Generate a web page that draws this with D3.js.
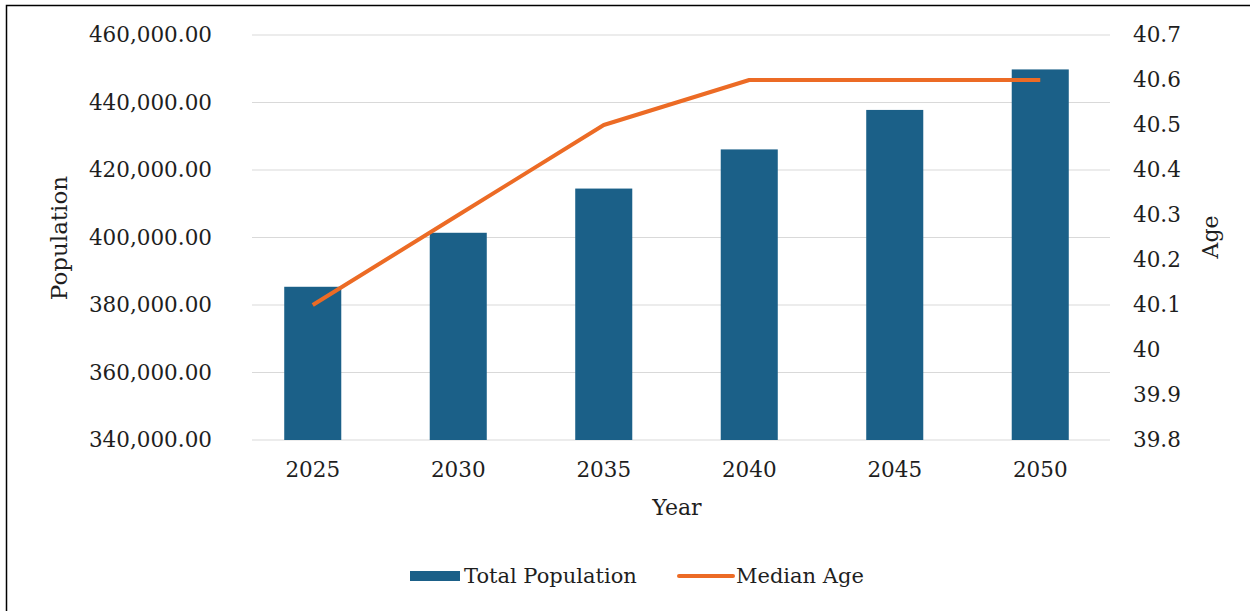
<!DOCTYPE html>
<html>
<head>
<meta charset="utf-8">
<script src="https://cdn.jsdelivr.net/npm/d3@7"></script>
<style>
  html, body { margin: 0; padding: 0; background: #fff; }
  svg { display: block; }
  text { font-family: "DejaVu Serif", "Liberation Serif", serif; fill: #1e1e1e; }
</style>
</head>
<body>
<svg id="chart" width="1250" height="611"></svg>
<script>
// Population projection with median age, 2025–2050
const years = ["2025", "2030", "2035", "2040", "2045", "2050"];
const totalPopulation = [385400, 401400, 414500, 426100, 437800, 449800];
const medianAge = [40.1, 40.3, 40.5, 40.6, 40.6, 40.6];
const popTicks = [340000, 360000, 380000, 400000, 420000, 440000, 460000];
const ageTicks = [39.8, 39.9, 40.0, 40.1, 40.2, 40.3, 40.4, 40.5, 40.6, 40.7];

const svg = d3.select("#chart");
const W = 1250, H = 611;

// frame
svg.append("rect")
  .attr("x", 6.5).attr("y", 5.5)
  .attr("width", W).attr("height", H)
  .attr("fill", "#fff").attr("stroke", "#000").attr("stroke-width", 1.5);

const plot = { left: 240, right: 1113, top: 35, bottom: 440 };

const x = d3.scaleBand()
  .domain(years)
  .range([plot.left, plot.right])
  .paddingInner(0.608)
  .paddingOuter(0.304);

const yPop = d3.scaleLinear().domain([340000, 460000]).range([plot.bottom, plot.top]);
const yAge = d3.scaleLinear().domain([39.8, 40.7]).range([plot.bottom, plot.top]);

// horizontal gridlines
svg.append("g")
  .selectAll("line")
  .data(popTicks)
  .join("line")
  .attr("x1", 252).attr("x2", 1110)
  .attr("y1", d => yPop(d)).attr("y2", d => yPop(d))
  .attr("stroke", "#d9d9d9").attr("stroke-width", 1.2);

function styleTicks(g) {
  g.select(".domain").remove();
  g.selectAll("text")
    .style("font-size", "21.5px")
    .attr("font-family", null)
    .attr("fill", "#1e1e1e");
}

// left axis
const fmtPop = d3.format(",.2f");
const leftAxis = d3.axisLeft(yPop).tickValues(popTicks).tickFormat(fmtPop).tickSize(0).tickPadding(0);
svg.append("g").attr("transform", "translate(212,0)").call(leftAxis).call(styleTicks);

// right axis
const fmtAge = d => (Math.abs(d - 40) < 1e-9 ? "40" : d3.format(".1f")(d));
const rightAxis = d3.axisRight(yAge).tickValues(ageTicks).tickFormat(fmtAge).tickSize(0).tickPadding(0);
svg.append("g").attr("transform", "translate(1133,0)").call(rightAxis).call(styleTicks);

// bottom axis
const bottomAxis = d3.axisBottom(x).tickSize(0).tickPadding(0);
svg.append("g").attr("transform", "translate(0,462)").call(bottomAxis).call(styleTicks);

// bars
svg.append("g")
  .selectAll("rect")
  .data(years.map((y, i) => ({ year: y, value: totalPopulation[i] })))
  .join("rect")
  .attr("x", d => x(d.year))
  .attr("width", x.bandwidth())
  .attr("y", d => yPop(d.value))
  .attr("height", d => yPop(340000) - yPop(d.value))
  .attr("fill", "#1b6088");

// median age line
const line = d3.line()
  .x((d, i) => x(years[i]) + x.bandwidth() / 2)
  .y(d => yAge(d));
svg.append("path")
  .datum(medianAge)
  .attr("d", line)
  .attr("fill", "none")
  .attr("stroke", "#ec6b25")
  .attr("stroke-width", 4)
  .attr("stroke-linejoin", "round");

// axis titles
svg.append("text")
  .attr("transform", "translate(67,238) rotate(-90)")
  .attr("text-anchor", "middle")
  .style("font-size", "23px")
  .text("Population");

svg.append("text")
  .attr("transform", "translate(1218,237) rotate(-90)")
  .attr("text-anchor", "middle")
  .style("font-size", "22px")
  .text("Age");

svg.append("text")
  .attr("x", 677).attr("y", 515)
  .attr("text-anchor", "middle")
  .style("font-size", "22px")
  .text("Year");

// legend
const legend = svg.append("g");
legend.append("rect")
  .attr("x", 410).attr("y", 571).attr("width", 50).attr("height", 10)
  .attr("fill", "#1b6088");
legend.append("text")
  .attr("x", 464).attr("y", 583)
  .style("font-size", "21px")
  .text("Total Population");
legend.append("line")
  .attr("x1", 679).attr("x2", 733).attr("y1", 576).attr("y2", 576)
  .attr("stroke", "#ec6b25").attr("stroke-width", 4).attr("stroke-linecap", "round");
legend.append("text")
  .attr("x", 736).attr("y", 583)
  .style("font-size", "21px")
  .text("Median Age");
</script>
</body>
</html>
